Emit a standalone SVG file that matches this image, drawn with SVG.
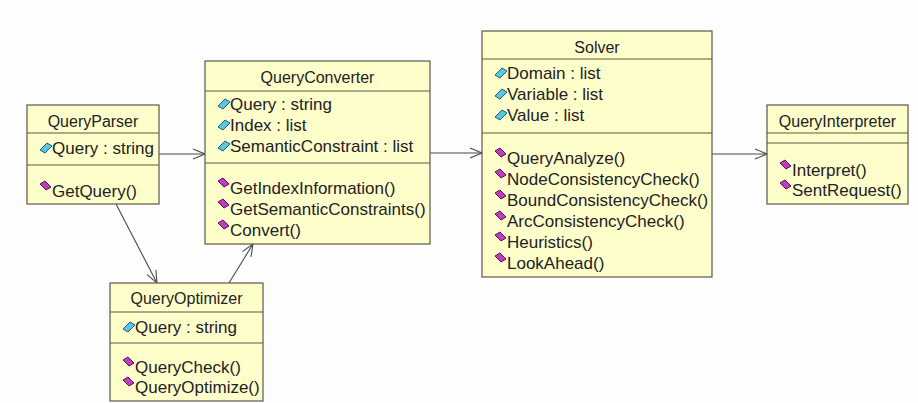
<svg xmlns="http://www.w3.org/2000/svg" xmlns:xlink="http://www.w3.org/1999/xlink" width="918" height="403" viewBox="0 0 918 403">
  <style>
    .box { fill: #fefecb; stroke: #595949; stroke-width: 1.2; }
    .sep { stroke: #595949; stroke-width: 1.2; }
    .title { font-family: "Liberation Sans", Arial, sans-serif; font-size: 16px; fill: #222222; text-anchor: middle; }
    .member { font-family: "Liberation Sans", Arial, sans-serif; font-size: 17px; fill: #222222; }
    .edge { fill: none; stroke: #4a4a4a; stroke-width: 1.1; }
  </style>
  <defs>
    <marker id="open-arrow" viewBox="0 0 14 12" refX="13" refY="6" markerWidth="14" markerHeight="12" markerUnits="userSpaceOnUse" orient="auto">
      <path d="M1,1 L13,6 L1,11" fill="none" stroke="#4a4a4a" stroke-width="1.1"/>
    </marker>
    <!-- attribute bullet: cyan tilted diamond -->
    <polygon id="attr-icon" points="0,2 7,-5 12,-2 5,5" fill="#5cc6de" stroke="#1d5b8a" stroke-width="1"/>
    <!-- operation bullet: magenta tilted diamond -->
    <polygon id="op-icon" points="0,-2 5,-5 11,1 6,4" fill="#c23cbf" stroke="#4e1550" stroke-width="1"/>
  </defs>

  <rect width="918" height="403" fill="#fdfdfd"/>

  <!-- associations -->
  <g id="connectors">
    <line class="edge" x1="159" y1="154" x2="205" y2="154" marker-end="url(#open-arrow)"/>
    <line class="edge" x1="430" y1="153" x2="482" y2="153" marker-end="url(#open-arrow)"/>
    <line class="edge" x1="712" y1="154" x2="767" y2="154" marker-end="url(#open-arrow)"/>
    <line class="edge" x1="116" y1="204" x2="157" y2="283" marker-end="url(#open-arrow)"/>
    <line class="edge" x1="229" y1="283" x2="253" y2="244" marker-end="url(#open-arrow)"/>
  </g>

  <g id="QueryParser">
    <rect class="box" x="27" y="105" width="132" height="99"/>
    <line class="sep" x1="27" y1="133" x2="159" y2="133"/>
    <line class="sep" x1="27" y1="165" x2="159" y2="165"/>
    <text class="title" x="93" y="127">QueryParser</text>
    <use xlink:href="#attr-icon" x="40" y="148"/>
    <text class="member" x="52" y="154">Query : string</text>
    <use xlink:href="#op-icon" x="40" y="186"/>
    <text class="member" x="52" y="197">GetQuery()</text>
  </g>

  <g id="QueryConverter">
    <rect class="box" x="205" y="61" width="225" height="183"/>
    <line class="sep" x1="205" y1="91" x2="430" y2="91"/>
    <line class="sep" x1="205" y1="163" x2="430" y2="163"/>
    <text class="title" x="317.5" y="83">QueryConverter</text>
    <use xlink:href="#attr-icon" x="218" y="104"/>
    <text class="member" x="230" y="110">Query : string</text>
    <use xlink:href="#attr-icon" x="218" y="125"/>
    <text class="member" x="230" y="131">Index : list</text>
    <use xlink:href="#attr-icon" x="218" y="146"/>
    <text class="member" x="230" y="152">SemanticConstraint : list</text>
    <use xlink:href="#op-icon" x="218" y="183"/>
    <text class="member" x="230" y="194">GetIndexInformation()</text>
    <use xlink:href="#op-icon" x="218" y="204"/>
    <text class="member" x="230" y="215">GetSemanticConstraints()</text>
    <use xlink:href="#op-icon" x="218" y="225"/>
    <text class="member" x="230" y="236">Convert()</text>
  </g>

  <g id="Solver">
    <rect class="box" x="482" y="31" width="230" height="246"/>
    <line class="sep" x1="482" y1="59" x2="712" y2="59"/>
    <line class="sep" x1="482" y1="133" x2="712" y2="133"/>
    <text class="title" x="597" y="53">Solver</text>
    <use xlink:href="#attr-icon" x="495" y="73"/>
    <text class="member" x="507" y="79">Domain : list</text>
    <use xlink:href="#attr-icon" x="495" y="94"/>
    <text class="member" x="507" y="100">Variable : list</text>
    <use xlink:href="#attr-icon" x="495" y="115"/>
    <text class="member" x="507" y="121">Value : list</text>
    <use xlink:href="#op-icon" x="495" y="153"/>
    <text class="member" x="507" y="164">QueryAnalyze()</text>
    <use xlink:href="#op-icon" x="495" y="174"/>
    <text class="member" x="507" y="185">NodeConsistencyCheck()</text>
    <use xlink:href="#op-icon" x="495" y="195"/>
    <text class="member" x="507" y="206">BoundConsistencyCheck()</text>
    <use xlink:href="#op-icon" x="495" y="216"/>
    <text class="member" x="507" y="227">ArcConsistencyCheck()</text>
    <use xlink:href="#op-icon" x="495" y="237"/>
    <text class="member" x="507" y="248">Heuristics()</text>
    <use xlink:href="#op-icon" x="495" y="258"/>
    <text class="member" x="507" y="269">LookAhead()</text>
  </g>

  <g id="QueryInterpreter">
    <rect class="box" x="767" y="105" width="141" height="99"/>
    <line class="sep" x1="767" y1="133" x2="908" y2="133"/>
    <line class="sep" x1="767" y1="143" x2="908" y2="143"/>
    <text class="title" x="837.5" y="127">QueryInterpreter</text>
    <use xlink:href="#op-icon" x="780" y="165"/>
    <text class="member" x="792" y="176">Interpret()</text>
    <use xlink:href="#op-icon" x="780" y="185"/>
    <text class="member" x="792" y="196">SentRequest()</text>
  </g>

  <g id="QueryOptimizer">
    <rect class="box" x="110" y="283" width="153" height="118"/>
    <line class="sep" x1="110" y1="312" x2="263" y2="312"/>
    <line class="sep" x1="110" y1="343" x2="263" y2="343"/>
    <text class="title" x="186.5" y="304">QueryOptimizer</text>
    <use xlink:href="#attr-icon" x="123" y="327"/>
    <text class="member" x="135" y="333">Query : string</text>
    <use xlink:href="#op-icon" x="123" y="362"/>
    <text class="member" x="135" y="373">QueryCheck()</text>
    <use xlink:href="#op-icon" x="123" y="382"/>
    <text class="member" x="135" y="393">QueryOptimize()</text>
  </g>
</svg>
